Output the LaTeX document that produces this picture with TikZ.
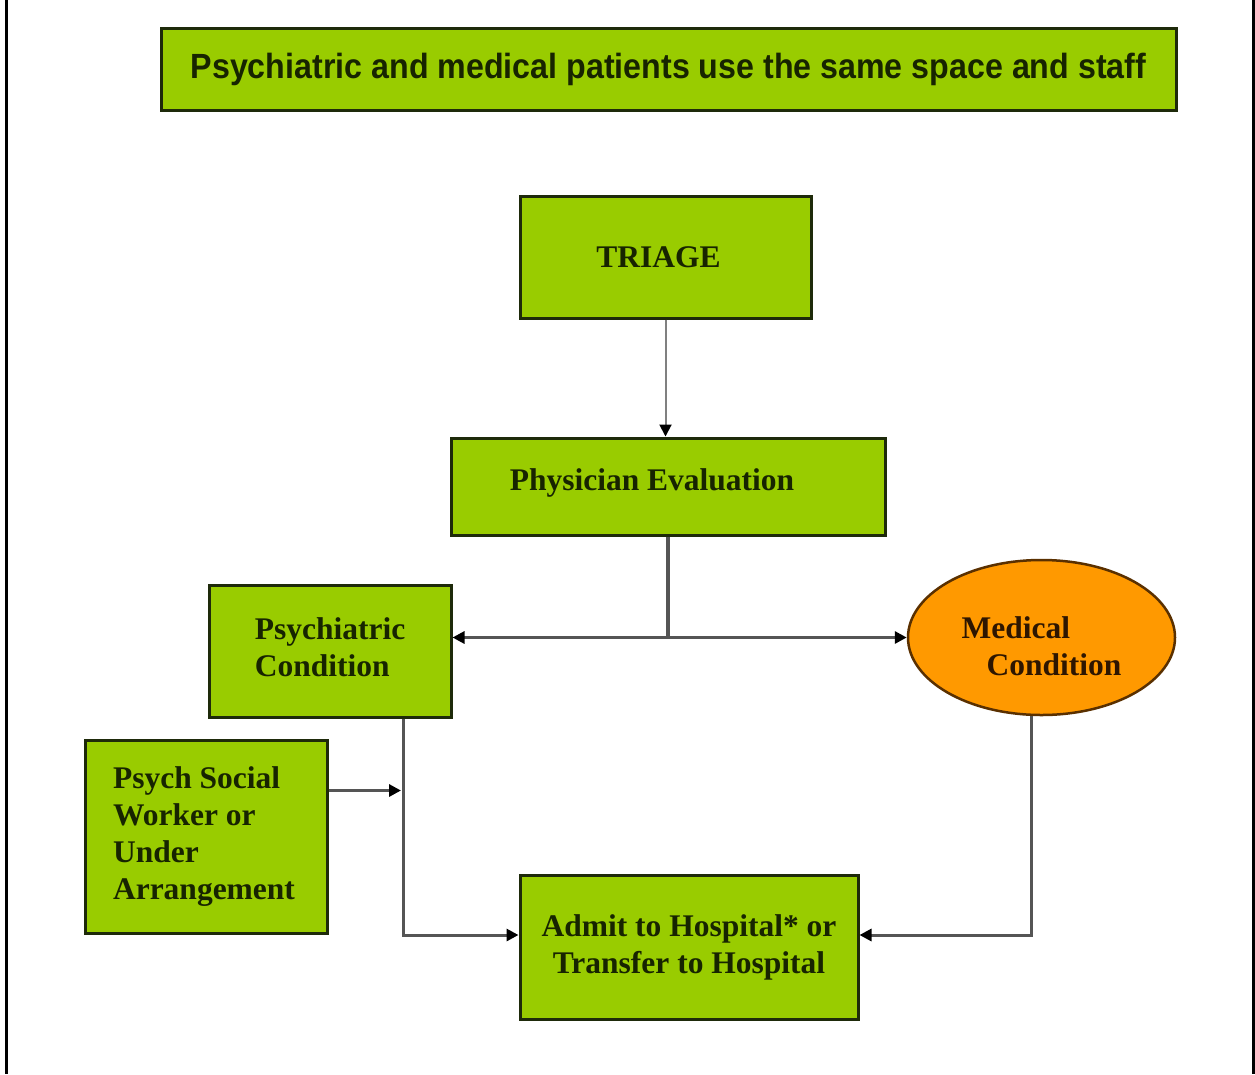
\documentclass[tikz,border=0pt]{standalone}
\usepackage{fontspec}
\setmainfont{Liberation Serif}
\newfontfamily\hdrfont{Liberation Sans}
\usetikzlibrary{shapes.geometric,arrows.meta}
\definecolor{boxgreen}{HTML}{99CC00}
\definecolor{boxorange}{HTML}{FF9900}
\definecolor{edgedark}{HTML}{1E2A0A}
\definecolor{edgebrown}{HTML}{5A3000}
\definecolor{txtgreen}{HTML}{172400}
\definecolor{txtbrown}{HTML}{2E1600}
\definecolor{linegray}{HTML}{555555}
\begin{document}
\begin{tikzpicture}[x=1pt,y=-1pt,
  gbox/.style={draw=edgedark, line width=3pt, fill=boxgreen, text=txtgreen,
    font=\fontsize{31.5}{37}\selectfont\bfseries, inner sep=0pt, align=center},
  obox/.style={ellipse, draw=edgebrown, line width=2.5pt, fill=boxorange, text=txtbrown,
    font=\fontsize{31.5}{37}\selectfont\bfseries, inner sep=0pt},
  conn/.style={draw=linegray, line width=3pt, -{Triangle[length=12pt,width=12pt,color=black]}},
  thinconn/.style={draw=gray, line width=2pt, -{Triangle[length=12pt,width=12pt,color=black]}},
  plainline/.style={draw=linegray, line width=3.5pt}]
\useasboundingbox (0,0) rectangle (1255,1074);
\fill[white] (0,0) rectangle (1255,1074);
\draw[line width=3.5pt] (6.5,0) -- (6.5,1074);
\draw[line width=3pt] (1253.5,0) -- (1253.5,1074);

\node[gbox, minimum width=1015pt, minimum height=82pt] (hdr) at (668.5,69)
  {\raisebox{-3pt}{\hdrfont\bfseries\fontsize{35}{40}\selectfont\scalebox{0.92}[1]{Psychiatric and medical patients use the same space and staff}}};

\node[gbox, minimum width=291pt, minimum height=122pt] (triage) at (665.5,257) {\hspace*{-14pt}TRIAGE};
\node[gbox, minimum width=434pt, minimum height=97pt] (phys) at (668,486.5) {\raisebox{4pt}[\height][\depth]{\hspace*{-32pt}Physician Evaluation}};
\node[gbox, minimum width=242pt, minimum height=132pt, align=left] (psych) at (330,651) {\begin{tabular}{@{}l@{}}Psychiatric\\Condition\end{tabular}};
\node[obox, minimum width=267pt, minimum height=155pt, align=left] (med) at (1041.5,637.5) {\raisebox{-12pt}[\height][\depth]{\begin{tabular}{@{}l@{}}Medical\\\hspace*{25pt}Condition\end{tabular}}};
\node[gbox, minimum width=242pt, minimum height=193pt, align=left] (psw) at (206,836.5) {\hspace*{-4pt}\begin{tabular}{@{}l@{}}Psych Social\\Worker or\\Under\\Arrangement\end{tabular}};
\node[gbox, minimum width=338pt, minimum height=144pt] (admit) at (689,947) {Admit to Hospital* or\\Transfer to Hospital};

\draw[thinconn] (triage.south) -- (triage.south |- phys.north);
\coordinate (j) at (phys.south |- med.west);
\draw[plainline] (phys.south) -- (j);
\draw[conn] (j) -- (psych.east |- j);
\draw[conn] (j) -- (med.west);
\coordinate (pv) at ([xshift=73pt]psych.south);
\coordinate (mv) at ([xshift=-10pt]med.south);
\coordinate (pswout) at ([yshift=46pt]psw.east);
\draw[conn] (pv) |- ([yshift=12pt]admit.west);
\draw[conn] (mv) |- ([yshift=12pt]admit.east);
\draw[conn, shorten >=2pt] (pswout) -- (pv |- pswout);
\end{tikzpicture}
\end{document}
